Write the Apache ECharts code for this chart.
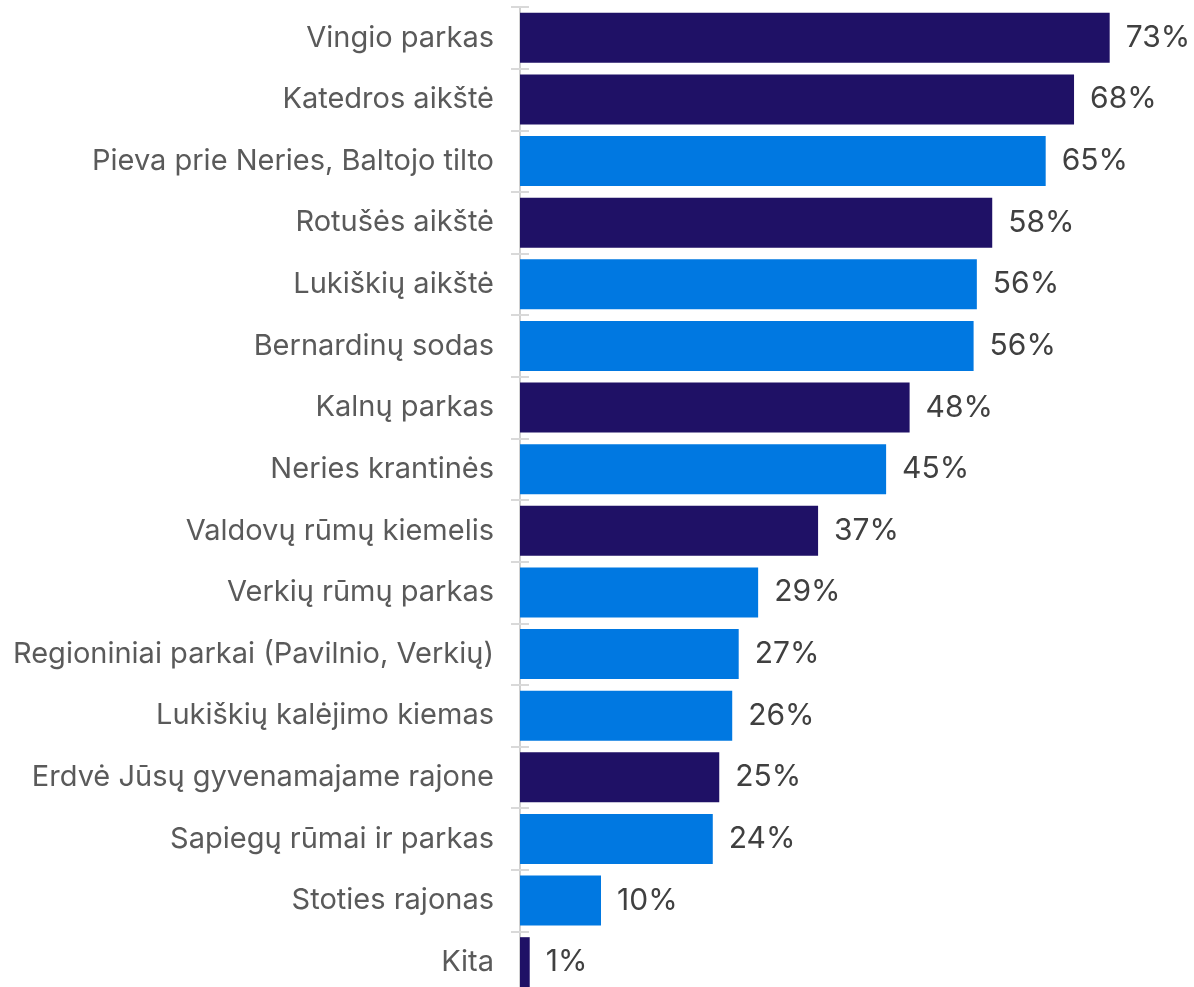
<!DOCTYPE html>
<html>
<head>
<meta charset="utf-8">
<script src="https://cdn.jsdelivr.net/npm/echarts@6/dist/echarts.min.js"></script>
<style>
  html, body { margin: 0; padding: 0; background: #fff; }
  #chart { width: 1194px; height: 987px; }
</style>
</head>
<body>
<div id="chart"></div>
<script>
// categories top -> bottom
const places = [
  'Vingio parkas',
  'Katedros aikštė',
  'Pieva prie Neries, Baltojo tilto',
  'Rotušės aikštė',
  'Lukiškių aikštė',
  'Bernardinų sodas',
  'Kalnų parkas',
  'Neries krantinės',
  'Valdovų rūmų kiemelis',
  'Verkių rūmų parkas',
  'Regioniniai parkai (Pavilnio, Verkių)',
  'Lukiškių kalėjimo kiemas',
  'Erdvė Jūsų gyvenamajame rajone',
  'Sapiegų rūmai ir parkas',
  'Stoties rajonas',
  'Kita'
]
// share of respondents, %
const shares = [72.8, 68.4, 64.9, 58.3, 56.4, 56.0, 48.1, 45.2, 36.8, 29.4, 27.0, 26.2, 24.6, 23.8, 10.0, 1.2]
// which bars are dark (1) vs blue (0)
const darkFlag = [1, 1, 0, 1, 0, 0, 1, 0, 1, 0, 0, 0, 1, 0, 0, 1]

const DARK = '#1f1166'
const BLUE = '#0078e1'
const FONT = 'Inter, "Open Sans", sans-serif'

const chart = echarts.init(document.getElementById('chart'))

const baseAxis = {
  type: 'category',
  data: places,
  inverse: true,
  position: 'left',
  axisLine: { show: false },
  axisLabel: { show: false },
  splitLine: { show: false }
}

chart.setOption({
  animation: false,
  grid: { left: 520, top: 7, width: 810, height: 986, containLabel: false, outerBoundsMode: 'none' },
  xAxis: {
    type: 'value',
    min: 0,
    max: 100,
    show: false
  },
  yAxis: [
    {
      ...baseAxis,
      axisLine: { show: true, lineStyle: { color: '#d0d0d0', width: 2 } },
      axisTick: { show: true, length: 9, lineStyle: { color: '#d9d9d9', width: 2 } },
      axisLabel: {
        show: true,
        margin: 26,
        fontFamily: FONT,
        fontSize: 29,
        color: '#5a5a5a'
      }
    },
    {
      // ticks crossing to the inside at category boundaries
      ...baseAxis,
      axisTick: { show: true, inside: true, length: 9, lineStyle: { color: '#d9d9d9', width: 2 } }
    },
    {
      // small ticks at category centres
      ...baseAxis,
      axisTick: { show: true, inside: true, alignWithLabel: true, length: 7, lineStyle: { color: '#d9d9d9', width: 2 } }
    }
  ],
  series: [{
    type: 'bar',
    yAxisIndex: 0,
    barWidth: 50,
    data: shares.map((v, i) => ({
      value: v,
      itemStyle: { color: darkFlag[i] ? DARK : BLUE }
    })),
    label: {
      show: true,
      position: 'right',
      distance: 16,
      fontFamily: FONT,
      fontSize: 30,
      color: '#404040',
      formatter: (p) => Math.round(p.value) + '%'
    }
  }]
})
</script>
</body>
</html>
